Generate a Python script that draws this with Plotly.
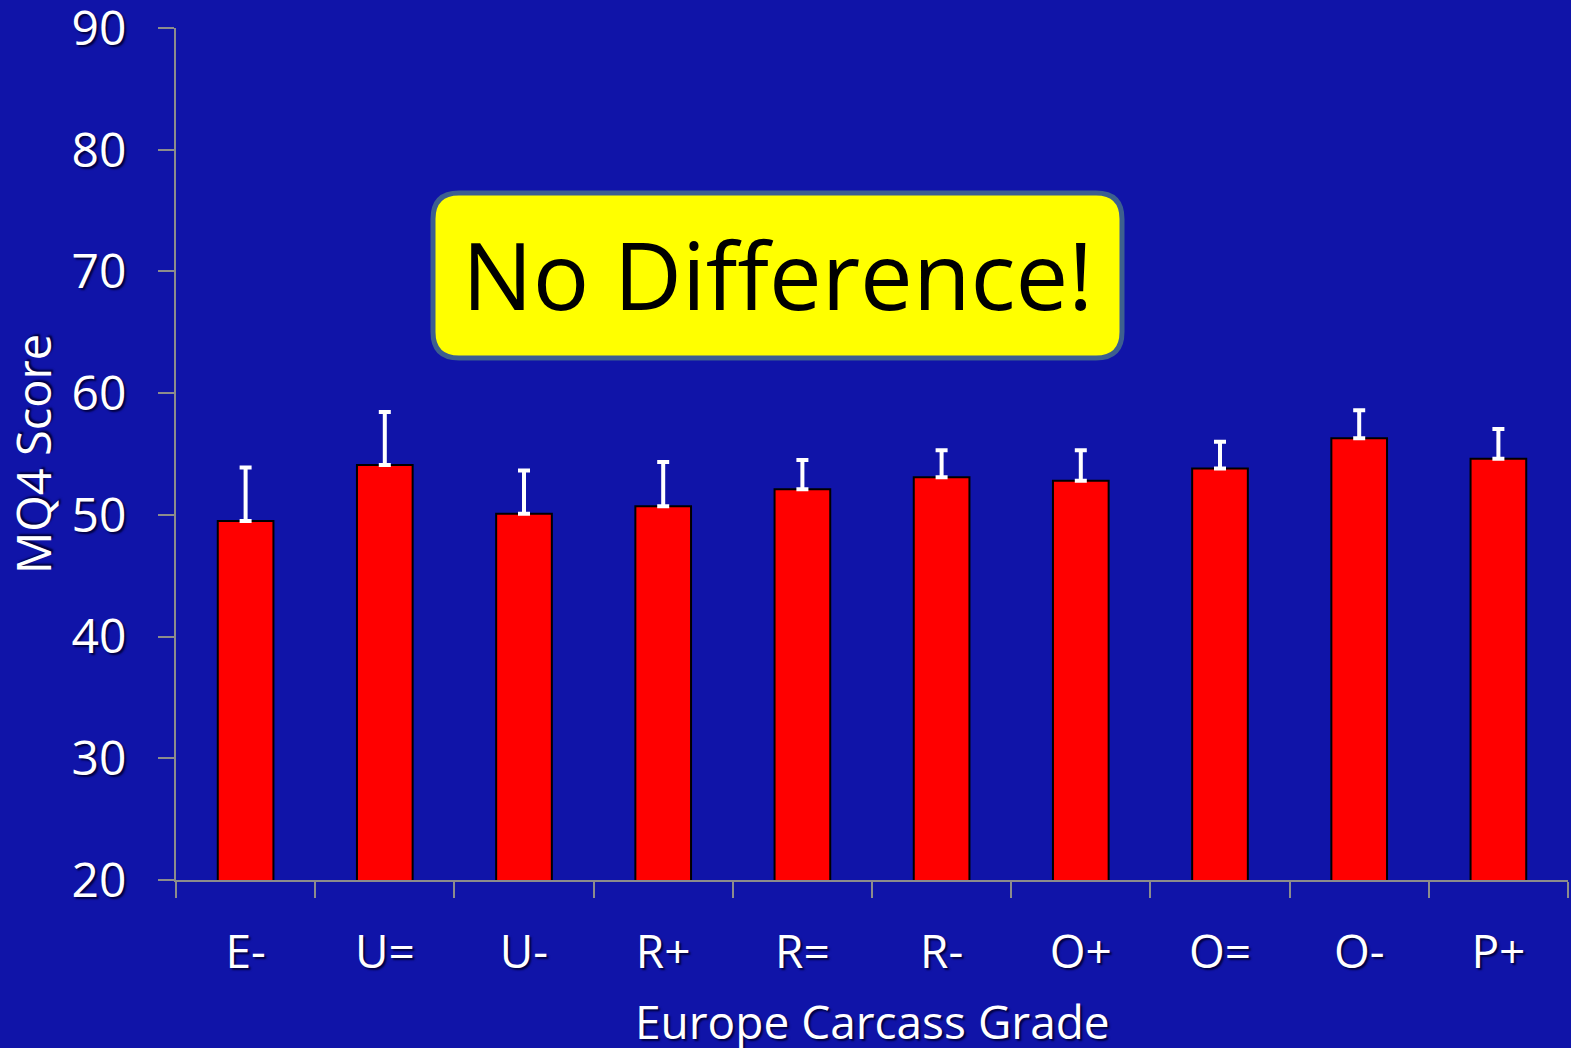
import plotly.graph_objects as go

grades = ["E-", "U=", "U-", "R+", "R=", "R-", "O+", "O=", "O-", "P+"]
mq4_mean = [49.5, 54.1, 50.1, 50.7, 52.1, 53.1, 52.8, 53.8, 56.3, 54.6]
mq4_err = [4.4, 4.35, 3.55, 3.65, 2.4, 2.2, 2.5, 2.2, 2.3, 2.45]

BG = "#1014A8"
FONT = "Open Sans"
shadow = "2px 2px 2px #000040"

fig = go.Figure()
fig.add_trace(go.Bar(
    x=grades, y=mq4_mean,
    marker=dict(color="#FF0000", line=dict(color="#000000", width=2)),
    error_y=dict(type="data", array=mq4_err, symmetric=False, arrayminus=[0]*len(grades),
                 color="#FFFFFF", thickness=4, width=6),
))

fig.update_layout(
    width=1571, height=1048,
    paper_bgcolor=BG, plot_bgcolor=BG,
    margin=dict(l=176, r=3, t=28, b=168),
    bargap=0.6,
    showlegend=False,
    font=dict(family=FONT, color="#FFFFFF"),
    xaxis=dict(
        showline=True, linecolor="#8C8C8C", linewidth=2,
        ticks="outside", tickson="boundaries", ticklen=16, tickcolor="#8C8C8C", tickwidth=2,
        tickfont=dict(size=46, family=FONT, color="#FFFFFF", shadow=shadow),
        ticklabelstandoff=31, automargin=False,
        showgrid=False, zeroline=False,
    ),
    yaxis=dict(
        range=[20, 90], tickvals=[20, 30, 40, 50, 60, 70, 80, 90],
        showline=True, linecolor="#8C8C8C", linewidth=2,
        ticks="outside", ticklen=16, tickcolor="#8C8C8C", tickwidth=2,
        tickfont=dict(size=48, family=FONT, color="#FFFFFF", shadow=shadow),
        ticklabelstandoff=22, ticklabeloverflow="allow", automargin=False,
        showgrid=False, zeroline=False,
    ),
)

# titles
fig.add_annotation(text="Europe Carcass Grade", xref="paper", yref="paper",
                   x=0.5, y=0, xshift=0, yshift=-141, xanchor="center", yanchor="middle",
                   showarrow=False, font=dict(size=46, family=FONT, color="#FFFFFF", shadow=shadow))
fig.add_annotation(text="MQ4 Score", xref="paper", yref="paper",
                   x=0, y=0.5, xshift=-143, yshift=0, textangle=-90, xanchor="center", yanchor="middle",
                   showarrow=False, font=dict(size=47, family=FONT, color="#FFFFFF", shadow=shadow))

# rounded callout box (pixel offsets from the plot's bottom-left corner)
x0, x1, y0, y1, r = 257, 946, 522, 687, 26
path = (f"M {x0+r},{y0} L {x1-r},{y0} Q {x1},{y0} {x1},{y0+r} L {x1},{y1-r} Q {x1},{y1} {x1-r},{y1} "
        f"L {x0+r},{y1} Q {x0},{y1} {x0},{y1-r} L {x0},{y0+r} Q {x0},{y0} {x0+r},{y0} Z")
fig.add_shape(type="path", path=path, xref="paper", yref="paper",
              xsizemode="pixel", ysizemode="pixel", xanchor=0, yanchor=0,
              fillcolor="#FFFF00", line=dict(color="#3D5F8F", width=5), layer="above")
fig.add_annotation(text="No Difference!", xref="paper", yref="paper",
                   x=0, y=0, xshift=(x0+x1)/2, yshift=(y0+y1)/2 + 2,
                   xanchor="center", yanchor="middle", showarrow=False,
                   font=dict(size=94, family=FONT, color="#000000"))

fig.write_html("out.html", config={"displayModeBar": False},
               post_script="document.body.style.margin='0';document.body.style.background='%s';" % BG)
